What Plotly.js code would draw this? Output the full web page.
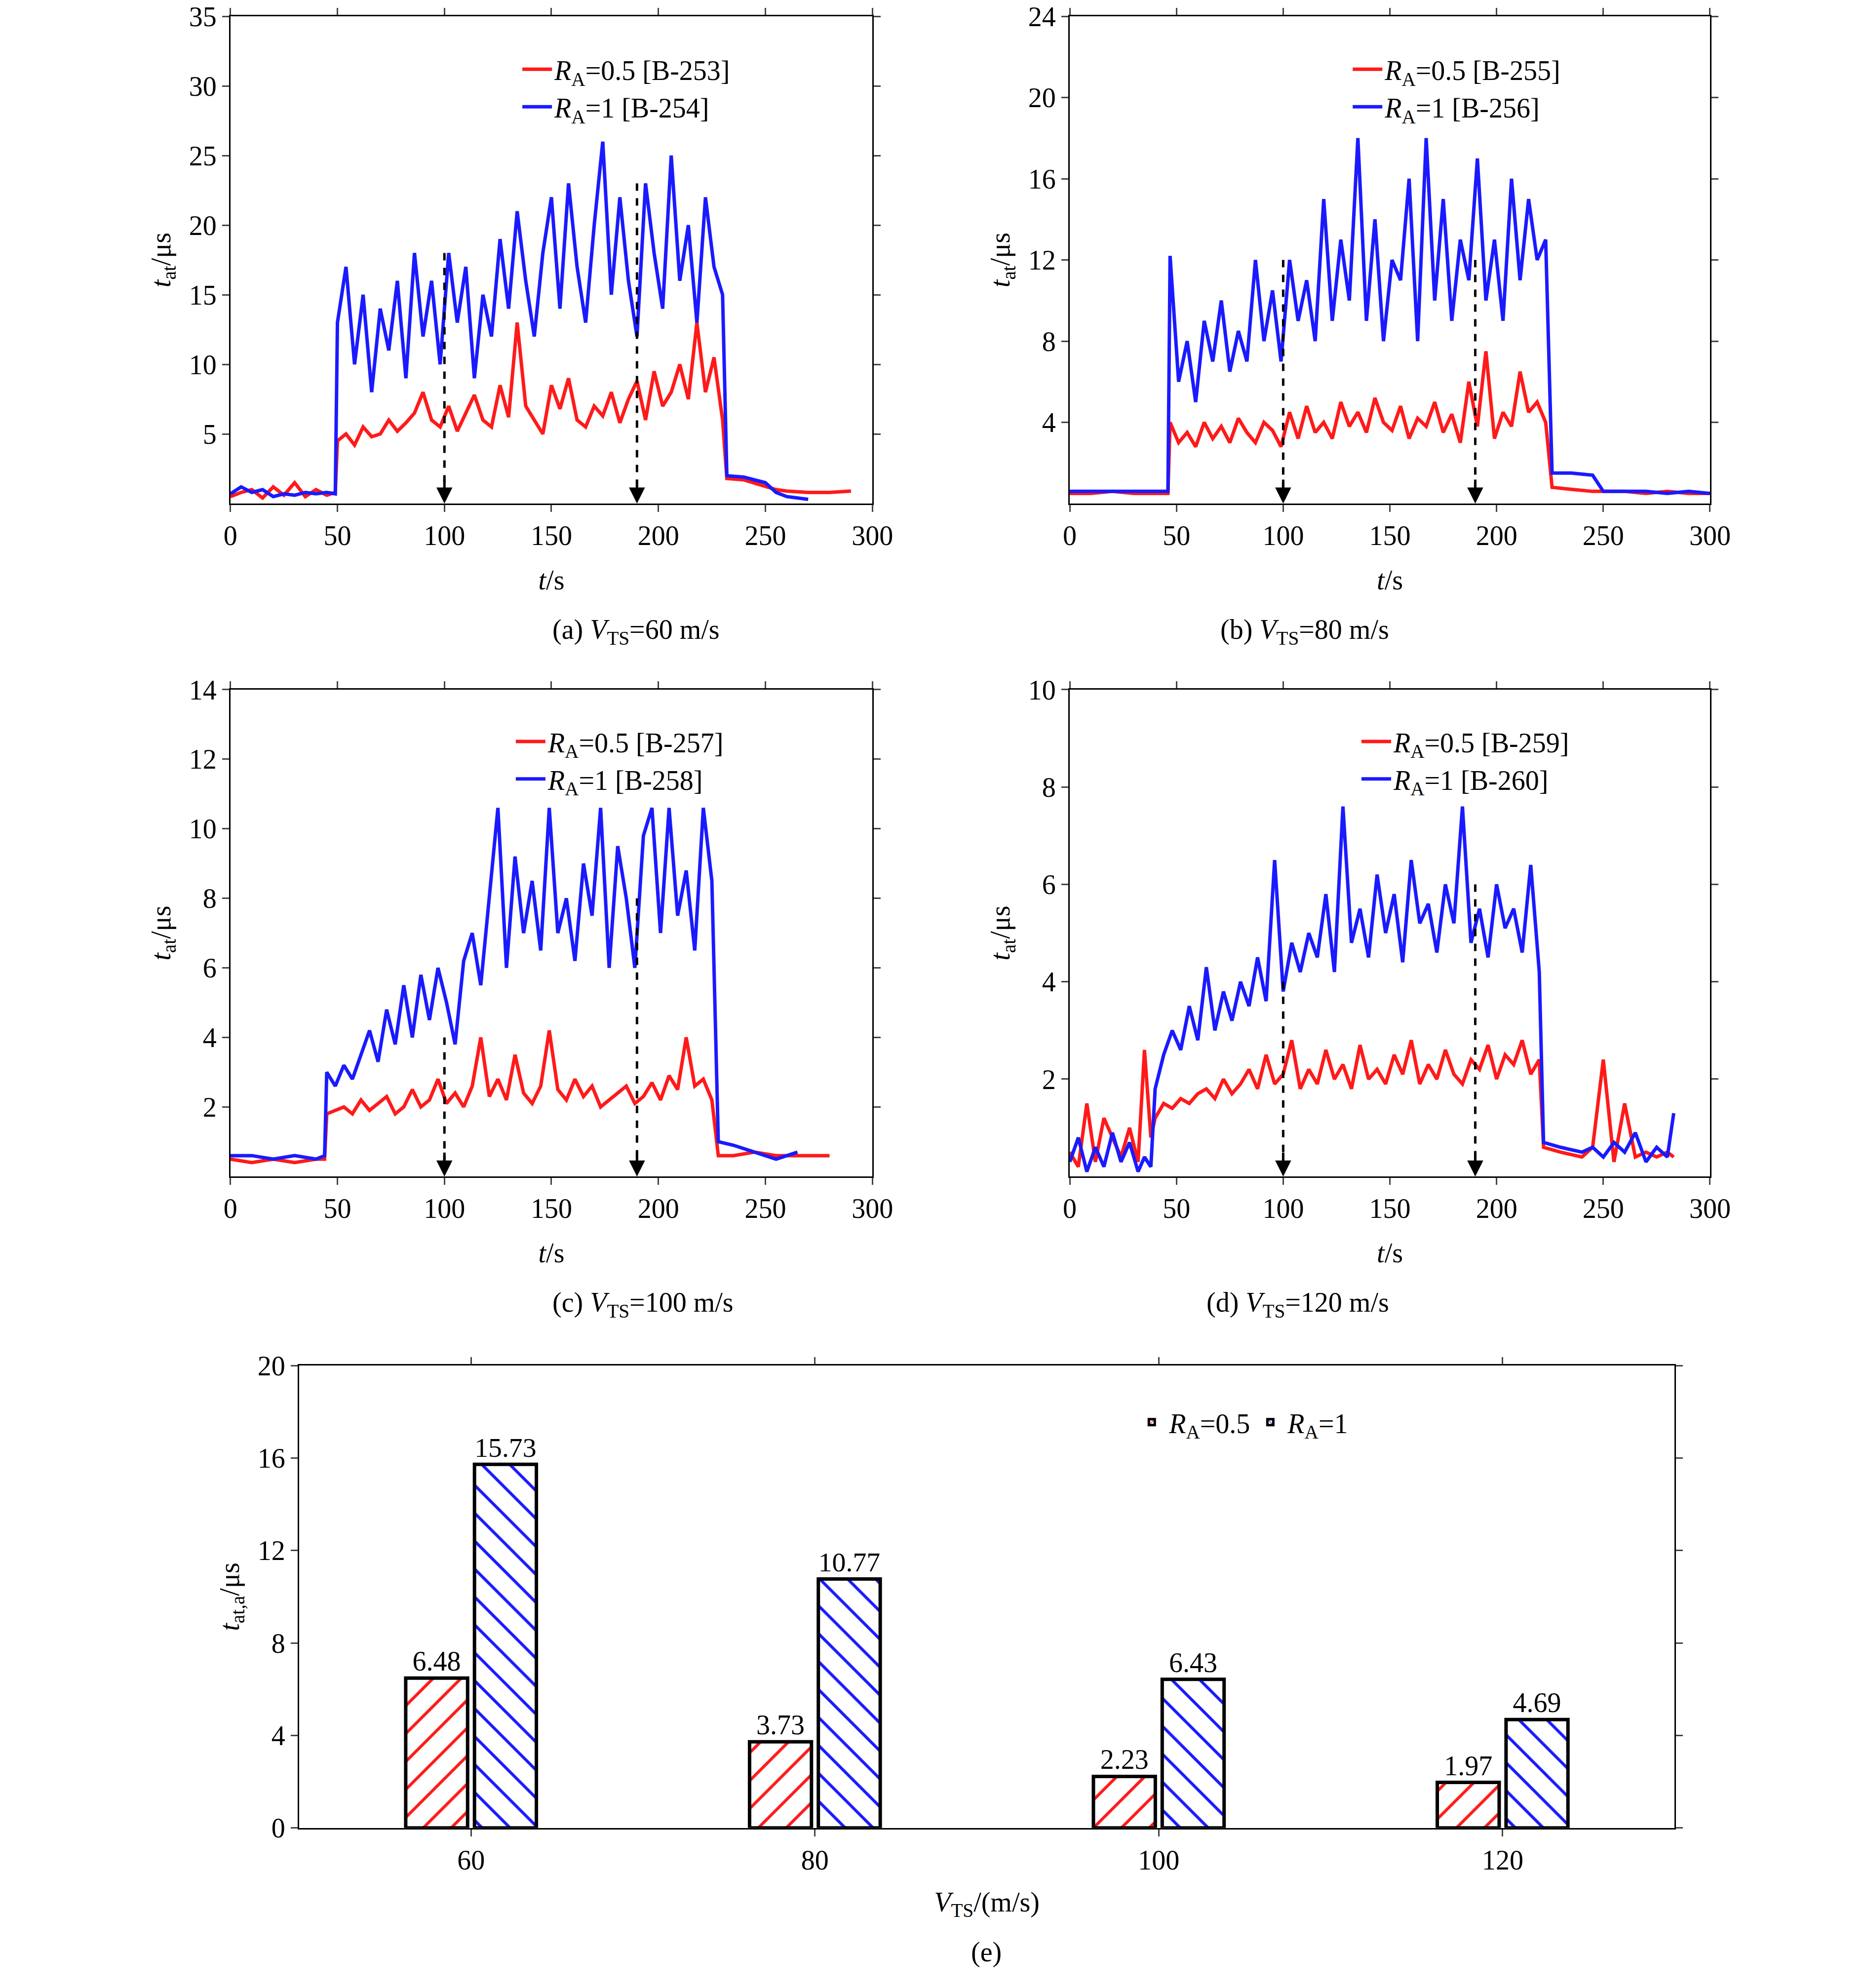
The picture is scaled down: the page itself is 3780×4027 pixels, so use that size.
<!DOCTYPE html>
<html><head><meta charset="utf-8">
<script src="https://cdn.plot.ly/plotly-3.0.1.min.js"></script>
<style>body{margin:0;background:#fff}</style></head><body>
<div id="c" style="width:3780px;height:4027px"></div>
<script>
// Panel (a)
const tA=[0,5,10,15,20,25,30,35,40,45,49,50,54,58,62,66,70,74,78,82,86,90,94,98,102,106,110,114,118,122,126,130,134,138,142,146,150,154,158,162,166,170,174,178,182,186,190,194,198,202,206,210,214,218,222,226,230,232,240,250,255,260,270,280,290];
const redA=[0.5,0.8,1,0.4,1.2,0.6,1.5,0.5,1,0.6,0.8,4.5,5,4.2,5.5,4.8,5,6,5.2,5.8,6.5,8,6,5.5,7,5.2,6.5,7.8,6,5.5,8.5,6.2,13,7,6,5,8.5,6.8,9,6,5.5,7,6.3,8,5.8,7.5,8.8,6,9.5,7,8,10,7.5,13,8,10.5,6,1.8,1.7,1.2,1,0.9,0.8,0.8,0.9];
const blueA=[0.7,1.2,0.8,1,0.5,0.7,0.6,0.8,0.7,0.8,0.7,13,17,10,15,8,14,11,16,9,18,12,16,10,18,13,17,9,15,12,19,14,21,16,12,18,22,14,23,17,13,20,26,15,22,16,12,23,18,14,25,16,20,13,22,17,15,2,1.9,1.5,0.8,0.5,0.3,null,null];
// Panel (b)
const tB=[0,10,20,30,40,46,47,51,55,59,63,67,71,75,79,83,87,91,95,99,103,107,111,115,119,123,127,131,135,139,143,147,151,155,159,163,167,171,175,179,183,187,191,195,199,203,207,211,215,219,223,226,235,245,250,260,270,280,290,300];
const redB=[0.5,0.5,0.6,0.5,0.5,0.5,4,3,3.5,2.8,4,3.2,3.8,3,4.2,3.5,3,4,3.6,2.8,4.5,3.2,4.8,3.5,4,3.2,5,3.8,4.5,3.5,5.2,4,3.6,4.8,3.2,4.2,3.8,5,3.5,4.4,3,6,3.8,7.5,3.2,4.5,3.8,6.5,4.5,5,4,0.8,0.7,0.6,0.6,0.6,0.5,0.6,0.5,0.5];
const blueB=[0.6,0.6,0.6,0.6,0.6,0.6,12.2,6,8,5,9,7,10,6.5,8.5,7,12,8,10.5,7,12,9,11,8,15,9,13,10,18,9,14,8,12,11,16,8,18,10,15,9,13,11,17,10,13,9,16,11,15,12,13,1.5,1.5,1.4,0.6,0.6,0.6,0.5,0.6,0.5];
// Panel (c)
const tC=[0,10,20,30,40,44,45,49,53,57,61,65,69,73,77,81,85,89,93,97,101,105,109,113,117,121,125,129,133,137,141,145,149,153,157,161,165,169,173,177,181,185,189,193,197,201,205,209,213,217,221,225,228,235,245,255,265,270,280];
const redC=[0.5,0.4,0.5,0.4,0.5,0.5,1.8,1.9,2,1.8,2.2,1.9,2.1,2.3,1.8,2,2.5,2,2.2,2.8,2.1,2.4,2,2.6,4,2.3,2.8,2.2,3.5,2.4,2.1,2.6,4.2,2.5,2.2,2.8,2.3,2.6,2,2.2,2.4,2.6,2.1,2.3,2.7,2.2,2.9,2.5,4,2.6,2.8,2.2,0.6,0.6,0.7,0.6,0.6,0.6,0.6];
const blueC=[0.6,0.6,0.5,0.6,0.5,0.6,3,2.6,3.2,2.8,3.5,4.2,3.3,4.8,3.8,5.5,4,5.8,4.5,6,5,3.8,6.2,7,5.5,8,10.6,6,9.2,7,8.5,6.5,10.6,7,8,6.2,9,7.5,10.6,6,9.5,8,6,9.8,10.6,7,10.6,7.5,8.8,6.5,10.6,8.5,1,0.9,0.7,0.5,0.7,null,null];
// Panel (d)
const tD=[0,4,8,12,16,20,24,28,32,35,38,40,44,48,52,56,60,64,68,72,76,80,84,88,92,96,100,104,108,112,116,120,124,128,132,136,140,144,148,152,156,160,164,168,172,176,180,184,188,192,196,200,204,208,212,216,220,222,230,240,245,250,255,260,265,270,275,280,283];
const redD=[0.5,0.2,1.5,0.3,1.2,0.8,0.4,1,0.3,2.6,0.8,1.2,1.5,1.4,1.6,1.5,1.7,1.8,1.6,2,1.7,1.9,2.2,1.8,2.5,1.9,2.1,2.8,1.8,2.2,1.9,2.6,2,2.3,1.8,2.7,2,2.2,1.9,2.5,2.1,2.8,1.9,2.3,2,2.6,2.1,1.9,2.4,2.2,2.7,2,2.5,2.3,2.8,2.1,2.4,0.6,0.5,0.4,0.6,2.4,0.3,1.5,0.4,0.5,0.4,0.5,0.4];
const blueD=[0.3,0.8,0.1,0.6,0.2,0.9,0.3,0.7,0.1,0.4,0.2,1.8,2.5,3,2.6,3.5,2.8,4.3,3,3.8,3.2,4,3.5,4.5,3.6,6.5,3.8,4.8,4.2,5,4.5,5.8,4.2,7.6,4.8,5.5,4.5,6.2,5,5.8,4.4,6.5,5.2,5.6,4.6,6,5.2,7.6,4.8,5.5,4.5,6,5.1,5.5,4.6,6.4,4.2,0.7,0.6,0.5,0.6,0.4,0.7,0.5,0.9,0.3,0.6,0.4,1.3];
// Panel (e)
const vts=['60','80','100','120'];
const avgHalf=[6.48,3.73,2.23,1.97];
const avgOne=[15.73,10.77,6.43,4.69];
const specs=[['B-253','B-254'],['B-255','B-256'],['B-257','B-258'],['B-259','B-260']];
const arrowTops=[[18,23],[12,12],[4,8],[4,6]];

const F='Liberation Serif';
const FS=56;
const RED='#ff1a1a', BLUE='#1a1aff';
const dom={a:[[0.1235,0.4675],[0.7467,0.9918]],b:[[0.5733,0.9164],[0.7467,0.9918]],c:[[0.1235,0.4675],[0.4082,0.6531]],d:[[0.5733,0.9164],[0.4082,0.6531]]};
const keys=['a','b','c','d'];
const ts=[tA,tB,tC,tD], rs=[redA,redB,redC,redD], bs=[blueA,blueB,blueC,blueD];
const ymax=[35,24,14,10], ydt=[5,4,2,2];
const legPos=[[0.2786,0.9758],[0.7236,0.9758],[0.2751,0.6377],[0.7283,0.6377]];
const caps=['(a) <i>V</i><sub>TS</sub>=60 m/s','(b) <i>V</i><sub>TS</sub>=80 m/s','(c) <i>V</i><sub>TS</sub>=100 m/s','(d) <i>V</i><sub>TS</sub>=120 m/s'];
const traces=[]; const layout={width:3780,height:4027,paper_bgcolor:'#fff',plot_bgcolor:'#fff',margin:{l:0,r:0,t:0,b:0},showlegend:true,font:{family:F,size:FS,color:'#000'},shapes:[],annotations:[]};
function ax(extra){return Object.assign({showline:true,linecolor:'#000',linewidth:3,mirror:'ticks',ticks:'outside',ticklen:14,tickwidth:3,showgrid:false,zeroline:false,tickfont:{family:F,size:FS,color:'#000'}},extra);}
keys.forEach((k,i)=>{
  const n=i+1, xa='x'+(n===1?'':n), ya='y'+(n===1?'':n), lg='legend'+(n===1?'':n);
  traces.push({x:ts[i],y:rs[i],xaxis:xa,yaxis:ya,type:'scatter',mode:'lines',line:{color:RED,width:7},name:'<i>R</i><sub>A</sub>=0.5 ['+specs[i][0]+']',legend:lg});
  traces.push({x:ts[i],y:bs[i],xaxis:xa,yaxis:ya,type:'scatter',mode:'lines',line:{color:BLUE,width:7},name:'<i>R</i><sub>A</sub>=1 ['+specs[i][1]+']',legend:lg});
  layout['xaxis'+(n===1?'':n)]=ax({domain:dom[k][0],anchor:ya,range:[0,300],dtick:50,title:{text:'<i>t</i>/s',font:{family:F,size:FS},standoff:40}});
  const tv=[];for(let v=ydt[i];v<=ymax[i];v+=ydt[i])tv.push(v);
  layout['yaxis'+(n===1?'':n)]=ax({domain:dom[k][1],anchor:xa,range:[0,ymax[i]],tickvals:tv,title:{text:'<i>t</i><sub>at</sub>/μs',font:{family:F,size:FS},standoff:20}});
  layout[lg]={x:legPos[i][0],y:legPos[i][1],xanchor:'left',yanchor:'top',bgcolor:'rgba(0,0,0,0)',font:{family:F,size:FS},itemwidth:60,tracegroupgap:0};
  [100,190].forEach((xv,j)=>{
    layout.shapes.push({type:'line',xref:xa,yref:ya,x0:xv,x1:xv,y0:arrowTops[i][j],y1:ymax[i]*0.03,line:{color:'#000',width:5,dash:'dash'}});
    layout.annotations.push({xref:xa,yref:ya,x:xv,y:0,ax:0,ay:-50,showarrow:true,arrowhead:2,arrowsize:1.3,arrowwidth:5,arrowcolor:'#000',text:''});
  });
  const xd=dom[k][0], yd=dom[k][1];
  layout.annotations.push({xref:'paper',yref:'paper',x:(xd[0]+xd[1])/2,y:yd[0]-0.055,yanchor:'top',showarrow:false,text:caps[i],font:{family:F,size:FS}});
});
traces.push({x:vts,y:avgHalf,xaxis:'x5',yaxis:'y5',type:'bar',name:'<i>R</i><sub>A</sub>=0.5',legend:'legend5',text:avgHalf.map(v=>v.toFixed(2)),textposition:'outside',textfont:{family:F,size:FS,color:'#000'},cliponaxis:false,marker:{color:'#fff',line:{color:'#000',width:7},pattern:{shape:'/',fgcolor:RED,bgcolor:'#fff',size:40,solidity:0.15}}});
traces.push({x:vts,y:avgOne,xaxis:'x5',yaxis:'y5',type:'bar',name:'<i>R</i><sub>A</sub>=1',legend:'legend5',text:avgOne.map(v=>v.toFixed(2)),textposition:'outside',textfont:{family:F,size:FS,color:'#000'},cliponaxis:false,marker:{color:'#fff',line:{color:'#000',width:7},pattern:{shape:'\\',fgcolor:BLUE,bgcolor:'#fff',size:40,solidity:0.15}}});
layout.barmode='group';layout.bargap=0.6;layout.bargroupgap=0.1;
layout.xaxis5=ax({domain:[0.1603,0.8974],anchor:'y5',type:'category',title:{text:'<i>V</i><sub>TS</sub>/(m/s)',font:{family:F,size:FS},standoff:35}});
layout.yaxis5=ax({domain:[0.0805,0.3131],anchor:'x5',range:[0,20],dtick:4,title:{text:'<i>t</i><sub>at,a</sub>/μs',font:{family:F,size:FS},standoff:20}});
layout.legend5={x:0.608,y:0.2953,xanchor:'left',yanchor:'top',orientation:'h',bgcolor:'rgba(0,0,0,0)',font:{family:F,size:FS},itemwidth:60};
layout.annotations.push({xref:'paper',yref:'paper',x:0.5285,y:0.0097,showarrow:false,text:'(e)',font:{family:F,size:FS}});
Plotly.newPlot('c',traces,layout,{displayModeBar:false});
</script></body></html>
